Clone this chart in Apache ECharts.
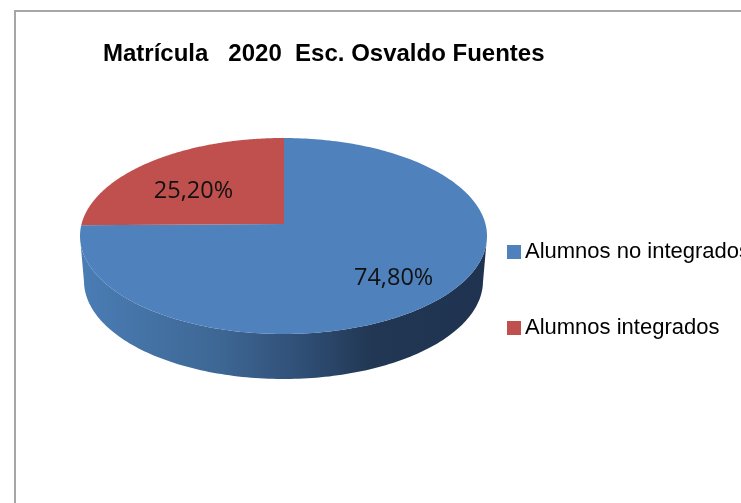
<!DOCTYPE html>
<html>
<head>
<meta charset="utf-8">
<style>html,body{margin:0;padding:0;background:#fff}#c{width:741px;height:503px}</style>
<script src="https://cdn.jsdelivr.net/npm/echarts@6/dist/echarts.min.js"></script>
</head>
<body>
<div id="c"></div>
<script>
const titleText = 'Matrícula   2020  Esc. Osvaldo Fuentes';
const categories = ['Alumnos no integrados', 'Alumnos integrados'];
const values = [74.8, 25.2];
const labels = ['74,80%', '25,20%'];
const colors = ['#4f81bd', '#c0504d'];

const geo = {cx: 283.5, cy: 236, rx: 203.5, ry: 98, apexX: 284, apexY: 224, depth: 45, bottomRx: 199.5};
const labelReach = [0.757, 0.625];
const labelShift = [2, 10];
const total = values.reduce((a, b) => a + b, 0);
const startFraction = [0, 0];
values.forEach((v, i) => { startFraction[i] = values.slice(0, i).reduce((a, b) => a + b, 0) / total; });

function rimPoint(theta) {
  const dx = Math.sin(theta) * geo.rx, dy = -Math.cos(theta) * geo.ry;
  const ox = (geo.apexX - geo.cx) / geo.rx, oy = (geo.apexY - geo.cy) / geo.ry;
  const ux = dx / geo.rx, uy = dy / geo.ry;
  const a = ux * ux + uy * uy, b = 2 * (ox * ux + oy * uy), c = ox * ox + oy * oy - 1;
  const t = (-b + Math.sqrt(b * b - 4 * a * c)) / (2 * a);
  return [geo.apexX + dx * t, geo.apexY + dy * t];
}

function renderSlice(i) {
  const a0 = startFraction[i] * Math.PI * 2;
  const a1 = a0 + values[i] / total * Math.PI * 2;
  const steps = 240;
  const rim = [];
  for (let s = 0; s <= steps; s++) rim.push(rimPoint(a0 + (a1 - a0) * s / steps));
  const front = rim.filter(p => p[1] >= geo.cy);
  const children = [];
  if (front.length > 1) {
    const k = geo.bottomRx / geo.rx;
    const low = front.map(p => [geo.cx + (p[0] - geo.cx) * k, p[1] + geo.depth]).reverse();
    children.push({
      type: 'polygon',
      shape: {points: front.concat(low)},
      style: {
        fill: new echarts.graphic.LinearGradient(80, 0, 487, 0, [
          {offset: 0, color: '#4a7db5'},
          {offset: 0.35, color: '#3d6693'},
          {offset: 0.55, color: '#2f4e75'},
          {offset: 0.72, color: '#213753'},
          {offset: 1, color: '#1f3350'}
        ], true)
      }
    });
  }
  children.push({
    type: 'polygon',
    shape: {points: [[geo.apexX, geo.apexY]].concat(rim)},
    style: {fill: colors[i]}
  });
  const mid = (a0 + a1) / 2;
  children.push({
    type: 'text',
    z2: 10,
    style: {
      x: geo.apexX + Math.sin(mid) * geo.rx * labelReach[i],
      y: geo.apexY - Math.cos(mid) * geo.ry * labelReach[i] + labelShift[i],
      text: labels[i],
      fill: '#111',
      font: '23.5px "Open Sans"',
      align: 'center',
      verticalAlign: 'middle'
    }
  });
  return {type: 'group', children};
}

const chart = echarts.init(document.getElementById('c'), null, {renderer: 'canvas'});
chart.setOption({
  animation: false,
  backgroundColor: '#fff',
  title: {
    text: titleText,
    left: 103,
    top: 42,
    padding: 0,
    textStyle: {fontFamily: 'Liberation Sans', fontWeight: 'bold', fontSize: 24, color: '#000'}
  },
  legend: {
    orient: 'vertical',
    left: 507,
    top: 241,
    padding: 0,
    itemWidth: 14,
    itemHeight: 14,
    itemGap: 54,
    icon: 'rect',
    data: categories,
    textStyle: {fontFamily: 'Liberation Sans', fontSize: 22, color: '#000', padding: [0, 0, 0, -1]}
  },
  graphic: [{
    type: 'rect',
    silent: true,
    z: -1,
    shape: {x: 15, y: 11, width: 800, height: 600},
    style: {fill: '#fff', stroke: '#a6a6a6', lineWidth: 2}
  }],
  series: categories.map((name, i) => ({
    type: 'custom',
    name,
    coordinateSystem: 'none',
    itemStyle: {color: colors[i]},
    data: [values[i]],
    renderItem: () => renderSlice(i)
  }))
});
</script>
</body>
</html>
